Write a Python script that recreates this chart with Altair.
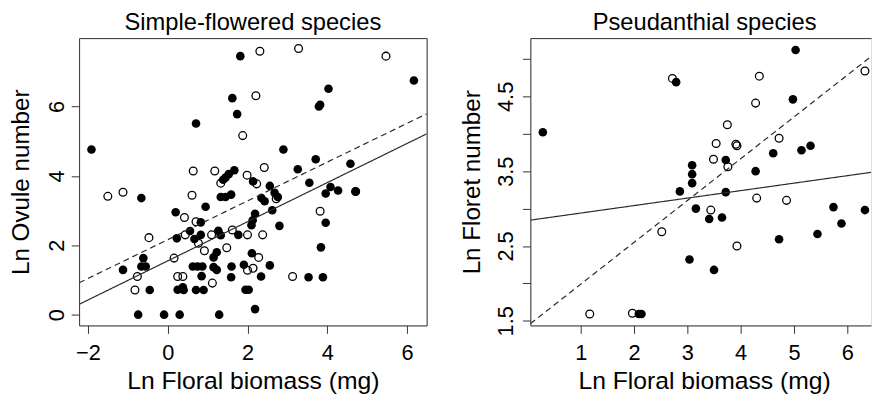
import altair as alt
import pandas as pd

FONT = "Liberation Sans"
INK = "#000000"
FRAME = "#333333"

# ---------------- Simple-flowered species ----------------
simple_filled_x = [-1.91, -1.12, -0.74, -0.09, 0.30, 1.29, 2.19, -0.45, -0.61, -0.66,
                   -0.55, -0.66, 0.20, 0.23, 0.56, 0.67, 0.83, 0.83, 0.95, 0.25,
                   0.38, 0.40, 0.71, 0.90, 0.63, 0.75, 0.87, 0.85, 1.15, 1.23,
                   1.15, 1.23, 1.27, 1.33, 1.60, 1.59, 1.77, 1.91, 1.95, 2.03,
                   2.11, 2.10, 2.13, 2.19, 2.35, 2.43, 2.62, 2.68, 2.76, 2.56,
                   2.80, 2.34, 2.56, 3.53, 3.89, 3.84, 3.96, 3.55, 4.08, 3.96,
                   4.27, 4.71, 1.33, 1.45, 1.59, 1.39, 1.45, 1.53, 1.67, 2.14,
                   0.71, 1.62, 1.74, 1.82, 2.90, 3.26, 3.71, 4.58, 4.03, 3.79,
                   3.82, 6.17]
simple_filled_y = [4.76, 1.29, 0.00, 0.00, 0.00, 0.00, 0.16, 0.71, 1.63, 1.39,
                   1.39, 3.36, 2.95, 2.20, 2.41, 2.18, 2.66, 2.30, 3.11, 0.72,
                   0.79, 0.71, 0.71, 0.71, 1.39, 1.39, 1.39, 1.11, 1.65, 1.80,
                   1.37, 1.29, 2.42, 2.29, 1.39, 1.08, 2.30, 1.44, 0.72, 0.72,
                   1.77, 2.58, 2.72, 2.91, 3.36, 3.27, 3.01, 3.51, 3.39, 3.71,
                   2.56, 1.10, 1.42, 1.08, 1.08, 1.94, 2.65, 3.80, 3.68, 3.49,
                   3.58, 3.55, 3.39, 3.39, 3.46, 3.89, 3.95, 4.05, 4.16, 3.84,
                   5.51, 6.24, 5.78, 7.45, 4.76, 4.19, 4.48, 4.35, 6.51, 6.00,
                   6.05, 6.75]
simple_open_x = [-1.50, -1.12, 0.61, 0.42, 0.71, -0.47, 0.44, 0.77, 1.10, 0.92,
                 1.62, 1.48, 2.00, 0.16, -0.76, -0.82, 0.25, 0.38, 1.12, 2.14,
                 2.00, 1.33, 2.23, 2.72, 3.82, 2.38, 2.28, 3.13, 2.31, 3.28,
                 5.47, 2.21, 2.42, 1.88, 0.64, 1.18, 1.99, 4.71]
simple_open_y = [3.41, 3.53, 3.44, 2.80, 2.68, 2.22, 2.30, 2.06, 2.30, 1.84,
                 2.44, 1.93, 2.30, 1.63, 1.10, 0.71, 1.10, 1.10, 0.91, 1.34,
                 1.28, 3.79, 3.77, 3.34, 2.98, 2.30, 1.65, 1.10, 7.59, 7.67,
                 7.45, 6.31, 4.24, 5.16, 4.14, 4.14, 4.02, 3.55]
simple_fit_solid = [1.55, 0.564]    # intercept, slope
simple_fit_dashed = [2.16, 0.559]   # intercept, slope
simple_x_domain = [-2.22, 6.49]
simple_y_domain = [-0.31, 7.97]
simple_x_ticks = [-2, 0, 2, 4, 6]
simple_y_ticks = [0, 2, 4, 6]

# ---------------- Pseudanthial species ----------------
pseud_filled_x = [0.29, 2.79, 5.03, 4.98, 4.61, 5.14, 5.31, 3.72, 4.28, 3.09,
                  3.09, 3.09, 2.86, 3.72, 3.16, 3.41, 3.65, 5.74, 6.33, 5.89,
                  5.44, 4.72, 3.04, 3.50, 2.09, 2.14]
pseud_filled_y = [4.02, 4.69, 5.12, 4.46, 3.74, 3.78, 3.84, 3.65, 3.50, 3.58,
                  3.46, 3.34, 3.23, 3.22, 3.00, 2.86, 2.88, 3.02, 2.98, 2.80,
                  2.66, 2.59, 2.32, 2.18, 1.59, 1.59]
pseud_open_x = [2.72, 4.35, 4.28, 3.75, 4.72, 3.54, 3.91, 3.93, 3.49, 3.76,
                6.33, 4.30, 4.86, 3.44, 2.52, 3.93, 1.17, 1.97]
pseud_open_y = [4.74, 4.77, 4.41, 4.12, 3.94, 3.87, 3.86, 3.84, 3.66, 3.56,
                4.84, 3.14, 3.11, 2.98, 2.69, 2.50, 1.59, 1.60]
pseud_fit_solid = [2.84, 0.100]
pseud_fit_dashed = [1.43, 0.559]
pseud_x_domain = [0.056, 6.444]
pseud_y_domain = [1.438, 5.279]
pseud_x_ticks = [1, 2, 3, 4, 5, 6]
pseud_y_ticks = [1.5, 2.0, 2.5, 3.0, 3.5, 4.0, 4.5, 5.0]
pseud_y_labelled = [1.5, 2.5, 3.5, 4.5]

X_TITLE = "Ln Floral biomass (mg)"


def panel(title, ytitle, fx, fy, ox, oy, fit_solid, fit_dashed, xdom, ydom,
          xticks, yticks, ylabelled, yfmt, width, height, right_frame,
          ytitle_x, ylabel_pad, title_dx):
    pts_f = pd.DataFrame({"x": fx, "y": fy})
    pts_o = pd.DataFrame({"x": ox, "y": oy})
    rows = []
    for kind, (a, b) in (("solid", fit_solid), ("dashed", fit_dashed)):
        for xv in xdom:
            rows.append({"x": xv, "y": a + b * xv, "kind": kind})
    fits = pd.DataFrame(rows)

    xs = alt.Scale(domain=xdom, nice=False, zero=False)
    ys = alt.Scale(domain=ydom, nice=False, zero=False)
    common = dict(domainColor=FRAME, domainWidth=1, tickColor=FRAME, tickWidth=1,
                  grid=False, labelFont=FONT, titleFont=FONT, labelColor=INK,
                  titleColor=INK, titleFontWeight="normal")
    xaxis = alt.Axis(orient="bottom", values=xticks, title=X_TITLE, tickSize=8,
                     labelFontSize=22, titleFontSize=25, labelBaseline="alphabetic",
                     labelPadding=26, labelFlush=False, labelOverlap=False,
                     titleBaseline="alphabetic", titleAlign="center",
                     titleY=64, titleX=176, **common)
    labelled = ",".join(str(v) for v in ylabelled)
    yaxis = alt.Axis(orient="left", values=yticks, title=ytitle, tickSize=8,
                     labelFontSize=22, titleFontSize=24.5, labelAngle=270,
                     labelAlign="center", labelBaseline="middle",
                     labelPadding=ylabel_pad, labelFlush=False, labelOverlap=False,
                     labelExpr="indexof([" + labelled + "], datum.value) >= 0 ? format(datum.value, '" + yfmt + "') : ''",
                     titleAngle=270, titleAlign="center", titleBaseline="alphabetic",
                     titleX=ytitle_x, titleY=height / 2, **common)
    top_axis = alt.Axis(orient="top", labels=False, ticks=False, title=None,
                        grid=False, domainColor=FRAME, domainWidth=1,
                        minExtent=0, maxExtent=0)
    right_axis = alt.Axis(orient="right", labels=False, ticks=False, title=None,
                          grid=False, domainColor=FRAME, domainWidth=1,
                          minExtent=0, maxExtent=0)

    open_layer = alt.Chart(pts_o).mark_point(
        shape="circle", filled=False, color=INK, size=62, strokeWidth=1.3, opacity=1
    ).encode(x=alt.X("x:Q", scale=xs, axis=xaxis), y=alt.Y("y:Q", scale=ys, axis=yaxis))

    filled_layer = alt.Chart(pts_f).mark_circle(color=INK, size=76, opacity=1).encode(
        x=alt.X("x:Q", scale=xs, axis=None), y=alt.Y("y:Q", scale=ys, axis=None))

    if right_frame:
        yenc = alt.Y("y:Q", scale=ys, axis=right_axis)
    else:
        yenc = alt.Y("y:Q", scale=ys, axis=None)
    line_layer = alt.Chart(fits).mark_line(color="#2a2a2a", strokeWidth=1.2, clip=True).encode(
        x=alt.X("x:Q", scale=xs, axis=top_axis),
        y=yenc,
        strokeDash=alt.StrokeDash("kind:N", legend=None,
                                  scale=alt.Scale(domain=["solid", "dashed"],
                                                  range=[[1, 0], [6, 4]])),
        detail="kind:N",
    )

    return alt.layer(open_layer, filled_layer, line_layer).resolve_axis(
        x="independent", y="independent"
    ).properties(
        width=width, height=height,
        title=alt.TitleParams(title, font=FONT, fontSize=24, fontWeight="normal",
                              color=INK, anchor="middle", frame="group",
                              baseline="alphabetic", offset=-16, dx=title_dx),
    )


left = panel("Simple-flowered species", "Ln Ovule number",
             simple_filled_x, simple_filled_y, simple_open_x, simple_open_y,
             simple_fit_solid, simple_fit_dashed, simple_x_domain, simple_y_domain,
             simple_x_ticks, simple_y_ticks, simple_y_ticks, "d", 352, 291, True,
             -51, 15, 0)
right = panel("Pseudanthial species", "Ln Floret number",
              pseud_filled_x, pseud_filled_y, pseud_open_x, pseud_open_y,
              pseud_fit_solid, pseud_fit_dashed, pseud_x_domain, pseud_y_domain,
              pseud_x_ticks, pseud_y_ticks, pseud_y_labelled, ".1f", 345, 291, False,
              -51, 17, 4)

chart = alt.hconcat(left, right, spacing=105, bounds="flush").properties(
    padding={"left": 0, "top": 0, "right": 0, "bottom": 0}
).configure_view(stroke="transparent").configure(background="white")

chart.save("out.html", embed_options={"renderer": "svg", "actions": False})
